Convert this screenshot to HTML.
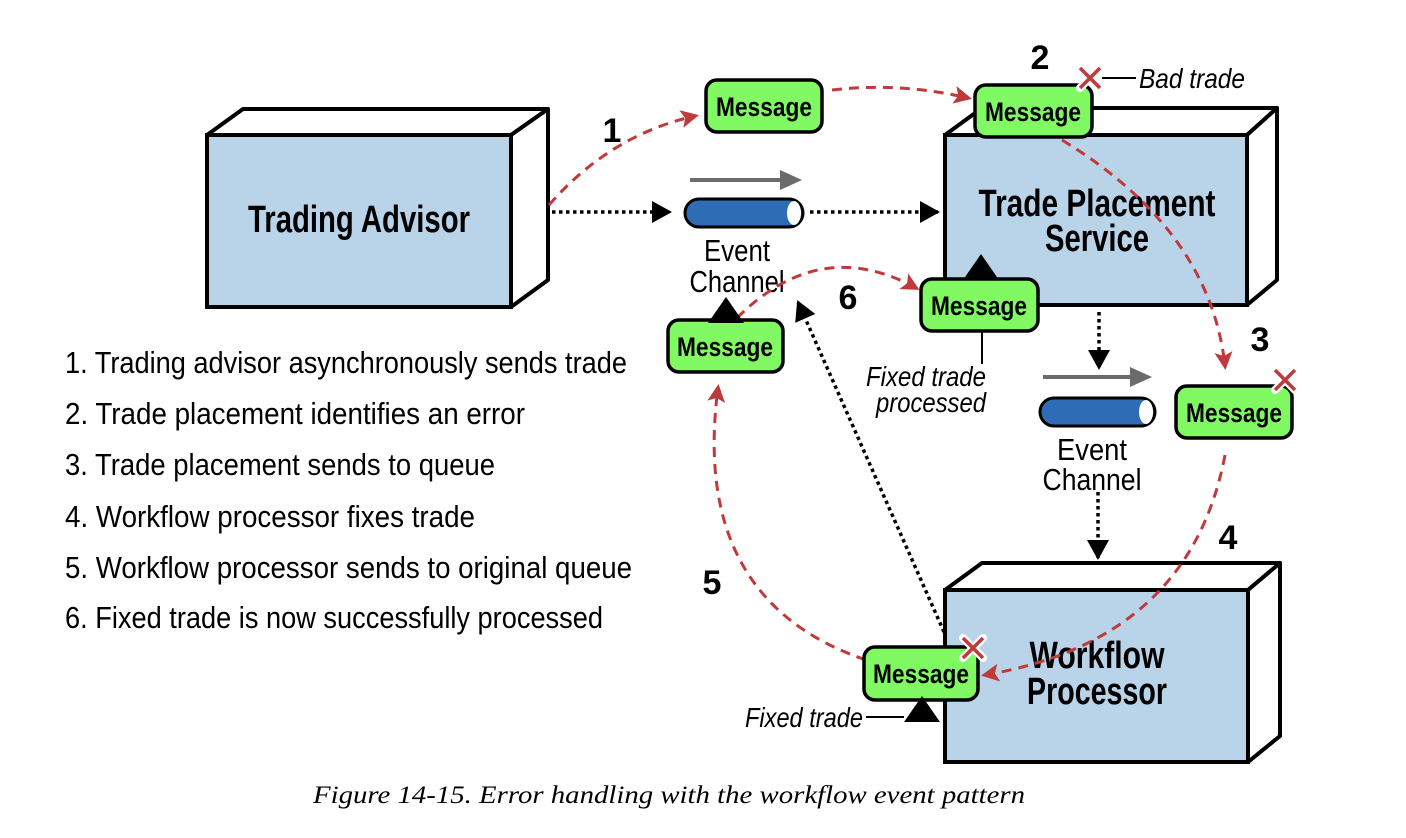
<!DOCTYPE html>
<html><head><meta charset="utf-8"><style>
html,body{margin:0;padding:0;background:#fff;}
svg{display:block;}
.b{font-family:"Liberation Sans Narrow","Liberation Sans",sans-serif;font-weight:bold;}
.n{font-family:"Liberation Sans Narrow","Liberation Sans",sans-serif;}
.i{font-family:"Liberation Sans Narrow","Liberation Sans",sans-serif;font-style:italic;}
</style></head><body>
<svg width="1406" height="838" viewBox="0 0 1406 838" xmlns="http://www.w3.org/2000/svg">
<defs>
<marker id="ra2" markerWidth="18" markerHeight="18" refX="14" refY="9" orient="auto" markerUnits="userSpaceOnUse"><path d="M0,0 L18,9 L0,18 L4,9 z" fill="#c0393b"/></marker>
<marker id="ba" markerWidth="20" markerHeight="22" refX="18" refY="11" orient="auto" markerUnits="userSpaceOnUse"><path d="M0,0 L20,11 L0,22 z" fill="#000"/></marker>
</defs>

<!-- Trading Advisor box -->
<polygon points="207,135 243,109 548,109 511,135" fill="#fff" stroke="#000" stroke-width="4" stroke-linejoin="round"/>
<polygon points="511,135 548,109 548,280 511,307" fill="#fff" stroke="#000" stroke-width="4" stroke-linejoin="round"/>
<rect x="207" y="135" width="304" height="172" fill="#b9d3e9" stroke="#000" stroke-width="4"/>
<text x="359" y="232" class="b" font-size="38" text-anchor="middle" textLength="222" lengthAdjust="spacingAndGlyphs">Trading Advisor</text>

<!-- TPS box -->
<polygon points="945,135 982,108 1277,108 1247,135" fill="#fff" stroke="#000" stroke-width="4" stroke-linejoin="round"/>
<polygon points="1247,135 1277,108 1277,280 1247,305" fill="#fff" stroke="#000" stroke-width="4" stroke-linejoin="round"/>
<rect x="945" y="135" width="302" height="170" fill="#b9d3e9" stroke="#000" stroke-width="4"/>
<text x="1097" y="216" class="b" font-size="38" text-anchor="middle" textLength="237" lengthAdjust="spacingAndGlyphs">Trade Placement</text>
<text x="1097" y="251" class="b" font-size="38" text-anchor="middle" textLength="104" lengthAdjust="spacingAndGlyphs">Service</text>

<!-- WP box -->
<polygon points="945,590 982,563 1280,563 1248,590" fill="#fff" stroke="#000" stroke-width="4" stroke-linejoin="round"/>
<polygon points="1248,590 1280,563 1280,736 1248,762" fill="#fff" stroke="#000" stroke-width="4" stroke-linejoin="round"/>
<rect x="945" y="590" width="303" height="172" fill="#b9d3e9" stroke="#000" stroke-width="4"/>
<text x="1097" y="668" class="b" font-size="38" text-anchor="middle" textLength="135" lengthAdjust="spacingAndGlyphs">Workflow</text>
<text x="1097" y="704" class="b" font-size="38" text-anchor="middle" textLength="140" lengthAdjust="spacingAndGlyphs">Processor</text>

<!-- Event channel 1 -->
<line x1="690" y1="180" x2="785" y2="180" stroke="#6b6b6b" stroke-width="4"/>
<polygon points="780,170 802,180 780,190" fill="#6b6b6b"/>
<rect x="685" y="199" width="118" height="28" rx="14" fill="#2e6db5" stroke="#000" stroke-width="3"/>
<ellipse cx="794" cy="213" rx="7" ry="12" fill="#fff"/>
<text x="737" y="261" class="n" font-size="31" text-anchor="middle" textLength="66" lengthAdjust="spacingAndGlyphs">Event</text>
<text x="737" y="292" class="n" font-size="31" text-anchor="middle" textLength="95" lengthAdjust="spacingAndGlyphs">Channel</text>

<!-- Event channel 2 -->
<line x1="1043" y1="377" x2="1132" y2="377" stroke="#6b6b6b" stroke-width="4"/>
<polygon points="1130,367 1152,377 1130,387" fill="#6b6b6b"/>
<rect x="1040" y="398" width="115" height="28" rx="14" fill="#2e6db5" stroke="#000" stroke-width="3"/>
<ellipse cx="1146" cy="412" rx="7" ry="12" fill="#fff"/>
<text x="1092" y="460" class="n" font-size="31" text-anchor="middle" textLength="70" lengthAdjust="spacingAndGlyphs">Event</text>
<text x="1092" y="490" class="n" font-size="31" text-anchor="middle" textLength="99" lengthAdjust="spacingAndGlyphs">Channel</text>

<!-- black dotted arrows -->
<g stroke="#000" stroke-width="3.5" stroke-dasharray="3.5,3.5" fill="none">
<line x1="552" y1="212" x2="670" y2="212" marker-end="url(#ba)"/>
<line x1="810" y1="212" x2="938" y2="212" marker-end="url(#ba)"/>
<line x1="1099" y1="312" x2="1099" y2="368" marker-end="url(#ba)"/>
<line x1="1098" y1="492" x2="1098" y2="558" marker-end="url(#ba)"/>
<line x1="944" y1="632" x2="798" y2="302" marker-end="url(#ba)"/>
</g>

<!-- red dashed arcs -->
<g stroke="#c0393b" stroke-width="3" stroke-dasharray="10,7" fill="none">
<path d="M549,205 Q610,135 695,116" marker-end="url(#ra2)"/>
<path d="M832,90 Q900,82 968,98" marker-end="url(#ra2)"/>
<path d="M1062,140 Q1210,230 1225,366" marker-end="url(#ra2)"/>
<path d="M1225,455 Q1190,640 985,675" marker-end="url(#ra2)"/>
<path d="M866,660 Q690,600 718,388" marker-end="url(#ra2)"/>
<path d="M737,318 Q820,235 916,288" marker-end="url(#ra2)"/>
</g>

<!-- Messages -->
<g stroke="#000" stroke-width="3.5" fill="#80f962">
<rect x="706" y="80" width="116" height="52" rx="11"/>
<rect x="975" y="85" width="117" height="52" rx="11"/>
<rect x="921" y="279" width="117" height="52" rx="11"/>
<rect x="668" y="320" width="115" height="52" rx="11"/>
<rect x="1176" y="386" width="116" height="52" rx="11"/>
<rect x="864" y="647" width="114" height="53" rx="11"/>
</g>
<g class="b" font-size="27" text-anchor="middle">
<text x="764" y="116" textLength="96" lengthAdjust="spacingAndGlyphs">Message</text>
<text x="1033" y="121" textLength="96" lengthAdjust="spacingAndGlyphs">Message</text>
<text x="979" y="315" textLength="96" lengthAdjust="spacingAndGlyphs">Message</text>
<text x="725" y="356" textLength="96" lengthAdjust="spacingAndGlyphs">Message</text>
<text x="1234" y="422" textLength="96" lengthAdjust="spacingAndGlyphs">Message</text>
<text x="921" y="683" textLength="96" lengthAdjust="spacingAndGlyphs">Message</text>
</g>

<!-- triangles -->
<polygon points="981,254 999,280 963,280" fill="#000"/>
<polygon points="726,297 744,323 708,323" fill="#000"/>
<polygon points="922,696 940,722 904,722" fill="#000"/>

<!-- red X marks -->
<g stroke="#fff" stroke-width="8" stroke-linecap="round">
<path d="M1080,68 L1100,88 M1100,68 L1080,88"/>
<path d="M1275,370 L1295,390 M1295,370 L1275,390"/>
<path d="M963,638 L983,658 M983,638 L963,658"/>
</g>
<g stroke="#c0393b" stroke-width="3.5">
<path d="M1080,68 L1100,88 M1100,68 L1080,88"/>
<path d="M1275,370 L1295,390 M1295,370 L1275,390"/>
<path d="M963,638 L983,658 M983,638 L963,658"/>
</g>

<!-- annotations -->
<line x1="1102" y1="78" x2="1136" y2="78" stroke="#000" stroke-width="2"/>
<text x="1139" y="88" class="i" font-size="28" textLength="106" lengthAdjust="spacingAndGlyphs">Bad trade</text>
<line x1="982" y1="331" x2="982" y2="364" stroke="#000" stroke-width="2"/>
<text x="926" y="386" class="i" font-size="28" text-anchor="middle" textLength="120" lengthAdjust="spacingAndGlyphs">Fixed trade</text>
<text x="931" y="412" class="i" font-size="28" text-anchor="middle" textLength="110" lengthAdjust="spacingAndGlyphs">processed</text>
<line x1="866" y1="717" x2="904" y2="717" stroke="#000" stroke-width="2"/>
<text x="745" y="727" class="i" font-size="28" textLength="118" lengthAdjust="spacingAndGlyphs">Fixed trade</text>

<!-- numbers -->
<g class="b" font-size="34" text-anchor="middle">
<text x="612" y="142">1</text>
<text x="1040" y="69">2</text>
<text x="1260" y="351">3</text>
<text x="1228" y="549">4</text>
<text x="712" y="594">5</text>
<text x="848" y="309">6</text>
</g>

<!-- list -->
<g class="n" font-size="31">
<text x="65" y="373" textLength="562" lengthAdjust="spacingAndGlyphs">1. Trading advisor asynchronously sends trade</text>
<text x="65" y="424" textLength="460" lengthAdjust="spacingAndGlyphs">2. Trade placement identifies an error</text>
<text x="65" y="475" textLength="430" lengthAdjust="spacingAndGlyphs">3. Trade placement sends to queue</text>
<text x="65" y="527" textLength="410" lengthAdjust="spacingAndGlyphs">4. Workflow processor fixes trade</text>
<text x="65" y="578" textLength="567" lengthAdjust="spacingAndGlyphs">5. Workflow processor sends to original queue</text>
<text x="65" y="628" textLength="538" lengthAdjust="spacingAndGlyphs">6. Fixed trade is now successfully processed</text>
</g>

<text x="669" y="803" font-family="'Liberation Serif',serif" font-style="italic" font-size="25" text-anchor="middle" textLength="712" lengthAdjust="spacingAndGlyphs">Figure 14-15. Error handling with the workflow event pattern</text>
</svg>
</body></html>
